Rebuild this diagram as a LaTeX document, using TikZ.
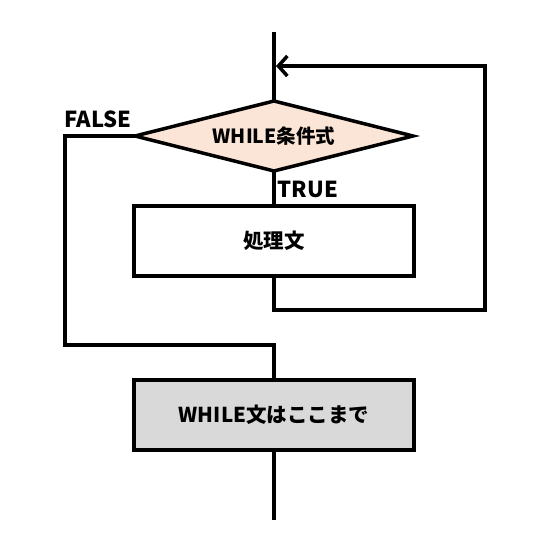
\documentclass[tikz,border=0pt]{standalone}
\usepackage{fontspec}
\setmainfont{Noto Sans CJK JP}
\usetikzlibrary{shapes.geometric,arrows.meta}
\definecolor{condfill}{HTML}{FBE5D6}
\definecolor{endfill}{HTML}{D9D9D9}
\tikzset{
  line/.style={line width=3.5pt},
  cond/.style={diamond, draw, line, fill=condfill, aspect=4, inner sep=0pt,
    outer sep=0pt, minimum width=278pt, minimum height=70pt, font=\bfseries\fontsize{19.5}{22}\selectfont},
  proc/.style={rectangle, draw, line, inner sep=0pt, outer sep=0pt,
    minimum width=280pt, minimum height=70pt, font=\bfseries\fontsize{20.5}{23}\selectfont},
  lbl/.style={font=\bfseries\fontsize{22}{24}\selectfont, inner sep=0pt}
}
\begin{document}
\begin{tikzpicture}[x=1pt,y=-1pt]
  \useasboundingbox (0,0) rectangle (552,556);
  \node [cond] (cond) at (274,136) {WHILE条件式};
  \node [proc] (body) at (274,241) {処理文};
  \node [proc, fill=endfill] (end) at (274,415) {WHILE文はここまで};
  \coordinate (top) at (274,32);
  \coordinate (loopin) at (276,66);
  \coordinate (back) at (485,310);
  \coordinate (falsedown) at (65,345);
  \coordinate (bottom) at (274,520);
  \draw [line] (top) -- (cond.north);
  \draw [line] (cond.south) -- (body.north);
  \draw [line, -{Straight Barb[length=9pt, width=20pt]}] (body.south) |- (back) |- (loopin);
  \draw [line] (cond.west) -| (falsedown) -| (end.north);
  \draw [line] (end.south) -- (bottom);
  \node [lbl] (false) at (98,119) {FALSE};
  \node [lbl] (true) at (308,189) {TRUE};
\end{tikzpicture}
\end{document}
